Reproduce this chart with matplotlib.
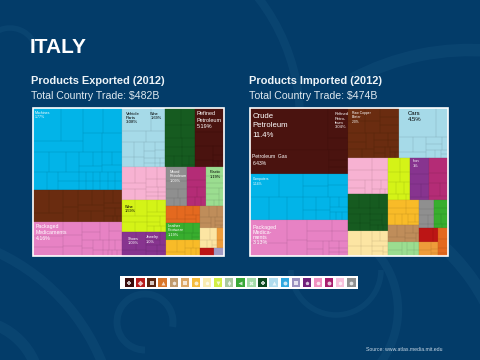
import matplotlib
matplotlib.use("Agg")
import matplotlib.pyplot as plt
from matplotlib.patches import Rectangle, Arc

plt.rcParams['font.family'] = ['Liberation Sans', 'DejaVu Sans']

# shares, in percent of the box
exp_values = [25.8, 10.1, 10.6, 9.1, 6.3, 6.1, 5.06, 5.0, 3.67, 2.84, 2.57, 2.48,
              2.14, 2.02, 1.94, 1.92, 1.22, 0.47, 0.38, 0.27]
exp_colors = ["#02b4e8", "#6a2c10", "#e782c4", "#a6dae8", "#165b20", "#4a130f", "#f7b2d2", "#d4f317",
              "#87348f", "#8f8f8f", "#b42c76", "#9bdd90", "#e4691f", "#38ae2e", "#f8bb28", "#bf8d5a",
              "#fce5a3", "#ee9c3a", "#bc1515", "#a29ac3"]
exp_sub = [[14, 11, 9, 8, 7, 6, 6, 5, 5, 4, 4, 3, 3, 3, 3, 2, 2, 2, 2, 2, 1, 1, 1, 1, 1, 1, 1, 1, 1, 1, 1, 1],
           [13, 11, 10, 9, 8, 7, 6, 6, 5, 5, 4, 4, 3, 3, 2, 2, 1, 1],
           [14, 11, 9, 8, 7, 6, 6, 5, 5, 4, 4, 3, 3, 3, 2, 2, 2, 2, 1, 1, 1, 1],
           [26, 13, 10, 8, 7, 6, 5, 4, 4, 3, 3, 3, 2, 2, 1, 1, 1, 1],
           [15, 13, 12, 10, 9, 8, 7, 6, 6, 5, 4, 3, 2],
           [40, 24, 14, 8, 6, 4, 2, 2],
           [14, 12, 11, 10, 9, 8, 7, 6, 5, 4, 4, 3, 3, 2, 2],
           [15, 13, 11, 10, 9, 8, 7, 6, 5, 4, 4, 3, 3, 2],
           [24, 18, 13, 10, 8, 7, 6, 5, 5, 4], [34, 22, 14, 10, 8, 6, 6], [32, 20, 14, 12, 10, 7, 5],
           [22, 18, 14, 12, 10, 8, 7, 5, 4], [24, 18, 15, 12, 10, 8, 7, 6], [30, 22, 16, 12, 10, 6, 4],
           [25, 18, 14, 12, 10, 8, 7, 6], [20, 17, 14, 12, 10, 8, 7, 6, 4, 2], [32, 24, 18, 12, 8, 6],
           [60, 40], [100], [100]]
exp_tree = ("h", [("v", [0, 1, 2]),
                  ("v", [("h", [3, 4, 5]),
                         ("h", [("v", [6, 7, 8]),
                                ("v", [("h", [9, 10, 11]),
                                       ("h", [("v", [12, 13, 14]),
                                              ("v", [15, ("v", [("h", [16, 17]), ("h", [18, 19])])])])])])])])

imp_values = [11.4, 2.8, 6.3, 1.5, 15.6, 12.05, 8.74, 8.12, 5.04, 4.95, 3.45, 3.32, 2.64, 2.78,
              2.62, 1.83, 1.55, 1.37, 1.30, 0.91, 0.88, 0.85]
imp_colors = ["#4a130f", "#4a130f", "#4a130f", "#4a130f", "#02b4e8", "#e782c4", "#6a2c10", "#a6dae8",
              "#f7b2d2", "#165b20", "#fce5a3", "#d4f317", "#87348f", "#b42c76", "#f8bb28", "#bf8d5a",
              "#9bdd90", "#8f8f8f", "#38ae2e", "#bc1515", "#ee9c3a", "#e4691f"]
imp_sub = [[100], [70, 30], [100], [40, 30, 30],
           [15, 12, 10, 9, 8, 7, 6, 5, 5, 4, 4, 3, 3, 2, 2, 2, 1, 1, 1],
           [24, 14, 11, 9, 8, 7, 5, 4, 4, 3, 3, 2, 2, 1, 1, 1, 1],
           [9, 8, 8, 7, 7, 6, 6, 6, 5, 5, 5, 4, 4, 4, 3, 3, 3, 2, 2, 2, 1, 1],
           [44, 14, 9, 8, 6, 5, 4, 3, 3, 2, 1, 1],
           [20, 16, 13, 11, 9, 8, 7, 6, 4, 3, 2, 1],
           [11, 10, 9, 9, 8, 8, 7, 7, 6, 5, 5, 4, 4, 3, 2, 2],
           [20, 16, 13, 11, 9, 8, 7, 6, 5, 3, 2],
           [18, 15, 13, 12, 10, 9, 8, 7, 5, 3], [38, 24, 18, 12, 8], [36, 24, 18, 12, 10],
           [18, 15, 13, 11, 10, 9, 8, 7, 5, 4], [20, 18, 15, 13, 11, 9, 8, 6], [25, 20, 16, 14, 10, 8, 7],
           [30, 22, 18, 14, 10, 6], [28, 22, 18, 16, 10, 6],
           [70, 30], [34, 26, 20, 12, 8], [40, 30, 20, 10]]
imp_tree = ("h", [("v", [("v", [("h", [0, 1]), ("h", [2, 3])]), 4, 5]),
                  ("v", [("h", [6, 7]),
                         ("h", [("v", [8, 9, 10]),
                                ("v", [("h", [11, 12, 13]),
                                       ("h", [("v", [14, 15, 16]),
                                              ("v", [("h", [17, 18]),
                                                     ("h", [("v", [19, 20]), 21])])])])])])])

# tile index, text, font size, colour, x and y offset in axes units, line spacing
exp_labels = [(0, "Machines\n1.77%", 2.6, "white", 1, 2, 1.15),
              (3, "Vehicle\nParts\n3.08%", 3.2, "black", 2, 2.5, 1.1),
              (3, "Wine\n1.69%", 2.8, "black", 15, 2.5, 1.2),
              (5, "Refined\nPetroleum\n5.19%", 4.0, "white", 1, 2, 1.4),
              (9, "Mixed\nPetroleum\n1.09%", 2.8, "white", 2, 1.5, 1.2),
              (11, "Plastic\n1.19%", 2.8, "black", 2, 2, 1.2),
              (7, "Wine\n1.59%", 2.8, "black", 1.5, 3, 1.2),
              (13, "Leather\nFootwear\n1.19%", 2.8, "white", 1, 0.5, 1.1),
              (8, "Shoes\n1.09%", 2.8, "white", 3, 3, 1.2),
              (8, "Jewelry\n1.0%", 2.8, "white", 12.5, 2, 1.2),
              (2, "Packaged\nMedicaments\n4.16%", 3.8, "white", 1.5, 1, 1.25)]
imp_labels = [(0, "Crude\nPetroleum\n11.4%", 5.6, "white", 1.5, 3.5, 1.45),
              (1, "Refined\nPetro-\nleum\n3.04%", 3.0, "white", 3, 3, 1.1),
              (2, "Petroleum  Gas\n6.43%", 3.6, "white", 1.5, 2.5, 1.45),
              (4, "Computers\n1.14%", 2.4, "white", 1.5, 2.5, 1.2),
              (5, "Packaged\nMedica-\nments\n3.13%", 3.9, "white", 1.5, 3, 1.05),
              (6, "Raw Copper\nBlister\n2.0%", 2.4, "white", 2, 2, 1.15),
              (7, "Cars\n4.5%", 4.3, "black", 4, 2, 1.3),
              (12, "Iron\n1%", 2.8, "white", 1, 1, 1.2)]

legend_colors = ["#3a0c0c", "#b71c1c", "#5a2410", "#d9762a", "#c09a6c", "#dca868", "#f5bc3c",
                 "#f9ecb0", "#d2ee44", "#a8c8a0", "#38a838", "#a4dca8", "#0d4a20", "#b0dcee", "#30a8e0",
                 "#9a92c0", "#70207a", "#f090c0", "#a81e6e", "#f8c0dc", "#909090"]
legend_marks = ["P", "D", "s", "^", "h", "s", "o", "p", "v", "d", "<", "X", "P", "^", "o",
                "s", "p", "H", "o", "h", "8"]


def split_tiles(vals, x, y, w, h):
    # cut the longer side so that the tiles stay roughly square
    if len(vals) == 1:
        return [(x, y, w, h)]
    total = sum(vals)
    run = 0
    cut = 1
    for i, v in enumerate(vals[:-1]):
        run += v
        cut = i + 1
        if run >= total / 2:
            break
    part = sum(vals[:cut]) / total
    if w >= h:
        return split_tiles(vals[:cut], x, y, w * part, h) + split_tiles(vals[cut:], x + w * part, y, w * (1 - part), h)
    return split_tiles(vals[:cut], x, y, w, h * part) + split_tiles(vals[cut:], x, y + h * part, w, h * (1 - part))


def node_sum(node, values):
    if isinstance(node, int):
        return values[node]
    return sum(node_sum(c, values) for c in node[1])


def layout(node, values, x, y, w, h, out):
    if isinstance(node, int):
        out[node] = (x, y, w, h)
        return
    total = node_sum(node, values)
    for child in node[1]:
        part = node_sum(child, values) / total
        if node[0] == "h":
            layout(child, values, x, y, w * part, h, out)
            x += w * part
        else:
            layout(child, values, x, y, w, h * part, out)
            y += h * part


def draw_treemap(rect, tree, values, colors, subs, labels):
    ax = fig.add_axes(rect)
    ax.set_xlim(0, 100)
    ax.set_ylim(100, 0)
    ax.axis("off")
    tiles = {}
    layout(tree, values, 0, 0, 100, 100, tiles)
    for i, (x, y, w, h) in tiles.items():
        ax.add_patch(Rectangle((x, y), w, h, fc=colors[i], ec=colors[i], lw=0.2))
        for sx, sy, sw, sh in split_tiles(subs[i], x, y, w, h):
            ax.add_patch(Rectangle((sx, sy), sw, sh, fc="none", ec="black", alpha=0.09, lw=0.3))
    for i, txt, size, col, dx, dy, sp in labels:
        x, y, w, h = tiles[i]
        ax.text(x + dx, y + dy, txt, fontsize=size, color=col, va="top", ha="left", linespacing=sp)
    ax.add_patch(Rectangle((0, 0), 100, 100, fc="none", ec="white", lw=1.2, clip_on=False))


def px_rect(x0, y0, x1, y1):
    return [x0 / 480, 1 - y1 / 360, (x1 - x0) / 480, (y1 - y0) / 360]


fig = plt.figure(figsize=(4.8, 3.6), dpi=100, facecolor="#033c69")

# faint swirls of the slide background
bg = fig.add_axes([0, 0, 1, 1])
bg.set_xlim(0, 480)
bg.set_ylim(360, 0)
bg.axis("off")
for cx, cy, r, t1, t2, lw in [(100, 120, 200, -45, 15, 6), (470, 300, 250, -118, -85, 9), (10, 55, 27, -180, -20, 4),
                              (-90, 440, 207, -65, -15, 7), (-30, 390, 70, -85, -5, 8), (145, 322, 28, 90, 370, 5),
                              (336, 270, 45, 0, 180, 4), (310, 310, 88, -40, 40, 6), (300, 400, 210, -50, -20, 9)]:
    bg.add_patch(Arc((cx, cy), 2 * r, 2 * r, theta1=t1, theta2=t2, ec="#16537f", alpha=0.35, lw=lw))

fig.text(30 / 480, 1 - 52.7 / 360, "ITALY", fontsize=15, fontweight="bold", color="white", va="baseline")
fig.text(31 / 480, 1 - 84 / 360, "Products Exported (2012)", fontsize=7.9, fontweight="bold", color="#eef4f8", va="baseline")
fig.text(31 / 480, 1 - 99 / 360, "Total Country Trade: $482B", fontsize=7.55, color="#dfe9f0", va="baseline")
fig.text(249 / 480, 1 - 84 / 360, "Products Imported (2012)", fontsize=7.9, fontweight="bold", color="#eef4f8", va="baseline")
fig.text(249 / 480, 1 - 99 / 360, "Total Country Trade: $474B", fontsize=7.55, color="#dfe9f0", va="baseline")
fig.text(366 / 480, 1 - 351 / 360, "Source: www.atlas.media.mit.edu", fontsize=3.7, color="#c8d8e6", va="baseline")

draw_treemap(px_rect(33, 108, 224, 256), exp_tree, exp_values, exp_colors, exp_sub, exp_labels)
draw_treemap(px_rect(249.5, 108, 447.5, 256), imp_tree, imp_values, imp_colors, imp_sub, imp_labels)

# legend strip
leg = fig.add_axes(px_rect(120, 276, 358, 289))
leg.set_xlim(-0.84, len(legend_colors) - 1 + 0.6)
leg.set_ylim(0, 1)
leg.set_xticks([])
leg.set_yticks([])
for s in leg.spines.values():
    s.set_visible(False)
leg.set_facecolor("white")
for i, c in enumerate(legend_colors):
    leg.add_patch(Rectangle((i - 0.38, 0.16), 0.76, 0.68, fc=c, ec="none"))
    leg.scatter([i], [0.5], s=8, marker=legend_marks[i], c="white", alpha=0.75, linewidths=0)

fig.savefig("out.png", dpi=100, facecolor=fig.get_facecolor())
